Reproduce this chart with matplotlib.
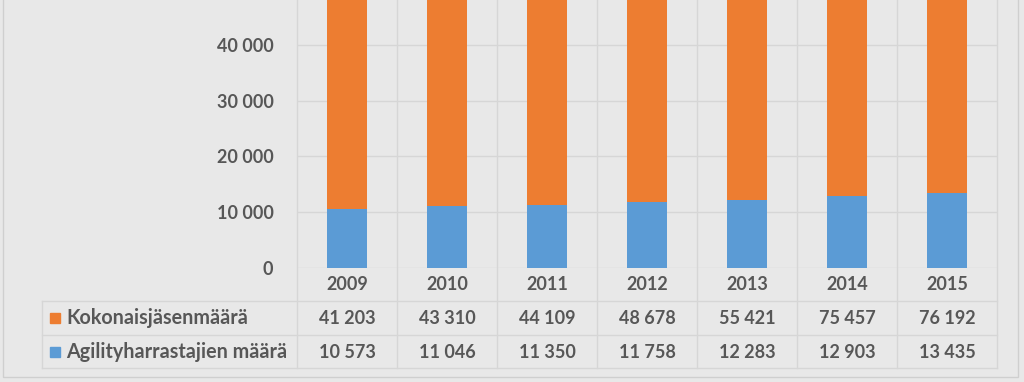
import matplotlib.pyplot as plt
from matplotlib.transforms import blended_transform_factory
from matplotlib.patches import Rectangle

# Data
years = ["2009", "2010", "2011", "2012", "2013", "2014", "2015"]
kokonais = [41203, 43310, 44109, 48678, 55421, 75457, 76192]
agility = [10573, 11046, 11350, 11758, 12283, 12903, 13435]
series_names = ["Kokonaisjäsenmäärä", "Agilityharrastajien määrä"]
yticks = [0, 10000, 20000, 30000, 40000]

W, H = 1024, 382
BG = "#e8e8e8"
GRID = "#d6d6d6"
TXT = "#575757"
ORANGE = "#ed7d31"
BLUE = "#5b9bd5"

plt.rcParams['font.family'] = ['Lato', 'DejaVu Sans']

fig = plt.figure(figsize=(W / 100, H / 100), dpi=100, facecolor=BG)

# axes placement in pixels
ax_l, ax_r, ax_top, ax_bot = 297, 997, 0, 268
ax = fig.add_axes([ax_l / W, 1 - ax_bot / H, (ax_r - ax_l) / W, (ax_bot - ax_top) / H])
ax.set_facecolor(BG)

x = list(range(len(years)))
ax.bar(x, agility, width=0.4, color=BLUE, zorder=3)
ax.bar(x, kokonais, width=0.4, bottom=agility, color=ORANGE, zorder=3)

ax.set_xlim(-0.5, len(years) - 0.5)
ax.set_ylim(0, 48070)
ax.set_yticks(yticks)
ax.set_yticklabels([f"{v:,}".replace(",", " ") for v in yticks],
                   fontsize=13, fontweight='bold', color=TXT)
ax.tick_params(axis='y', length=0, pad=17)
ax.set_xticks([])
ax.grid(axis='y', color=GRID, lw=1, zorder=0)
for s in ax.spines.values():
    s.set_visible(False)

# pixel -> axes-fraction for y
def yfrac(py):
    return (ax_bot - py) / (ax_bot - ax_top)

tr = blended_transform_factory(ax.transData, ax.transAxes)
fig_tr = fig.transFigure

# vertical column lines through plot + table
for i in range(len(years) + 1):
    ax.plot([i - 0.5, i - 0.5], [1, yfrac(368)], transform=tr, color=GRID,
            lw=1, clip_on=False, zorder=1)

# table horizontal lines
for py in [301, 335, 368]:
    ax.plot([42 / W, ax_r / W], [1 - py / H, 1 - py / H], transform=fig_tr,
            color=GRID, lw=1, clip_on=False)
ax.plot([42 / W, 42 / W], [1 - 301 / H, 1 - 368 / H], transform=fig_tr,
        color=GRID, lw=1, clip_on=False)

# year labels
for i, yr in enumerate(years):
    ax.text(i, yfrac(285), yr, transform=tr, ha='center', va='center',
            fontsize=13, fontweight='bold', color=TXT, clip_on=False)

# table rows
rows = [(series_names[0], kokonais, ORANGE, 318),
        (series_names[1], agility, BLUE, 352)]
for name, vals, col, py in rows:
    fig.patches.append(Rectangle((50 / W, 1 - (py + 5) / H), 10 / W, 10 / H,
                                 transform=fig_tr, color=col))
    fig.text(66 / W, 1 - py / H, name, ha='left', va='center',
             fontsize=14.2, fontweight='bold', color=TXT)
    for i, v in enumerate(vals):
        ax.text(i, yfrac(py), f"{v:,}".replace(",", " "), transform=tr,
                ha='center', va='center', fontsize=13, fontweight='bold',
                color=TXT, clip_on=False)

# outer frame
fig.patches.append(Rectangle((3 / W, 1 - 377 / H), 1015 / W, 380 / H,
                             transform=fig_tr, fill=False, ec="#cfcfcf", lw=1))

fig.savefig("out.png", dpi=100, facecolor=BG)
